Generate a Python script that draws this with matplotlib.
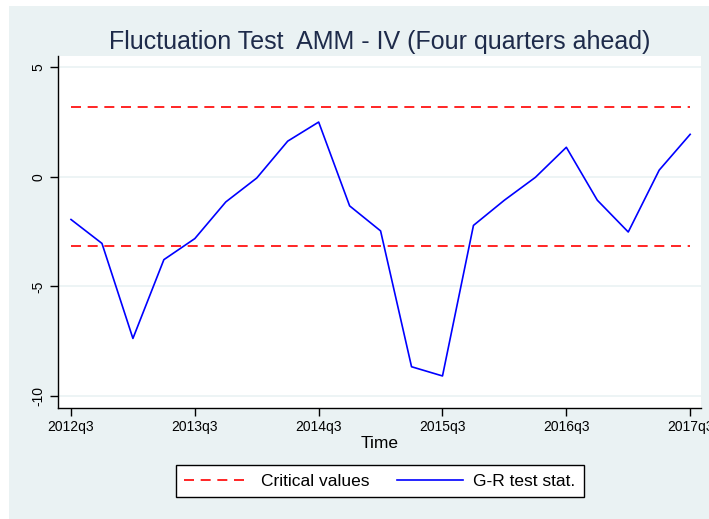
import matplotlib
matplotlib.use("Agg")
import matplotlib.pyplot as plt
from matplotlib.patches import Rectangle

# quarters 2012q3 .. 2017q3
quarters = ['2012q3', '2012q4', '2013q1', '2013q2', '2013q3', '2013q4', '2014q1',
            '2014q2', '2014q3', '2014q4', '2015q1', '2015q2', '2015q3', '2015q4',
            '2016q1', '2016q2', '2016q3', '2016q4', '2017q1', '2017q2', '2017q3']
gr_stat = [-1.95, -3.04, -7.37, -3.78, -2.82, -1.15, -0.06, 1.62, 2.49, -1.33, -2.47,
           -8.66, -9.08, -2.22, -1.07, -0.03, 1.34, -1.07, -2.52, 0.30, 1.93]
crit_value = 3.18
tick_labels = ['2012q3', '2013q3', '2014q3', '2015q3', '2016q3', '2017q3']

plt.rcParams['font.family'] = ['Liberation Sans', 'DejaVu Sans']

fig = plt.figure(figsize=(7.09, 5.19), dpi=100)
fig.patch.set_facecolor('white')
bg = Rectangle((9 / 709, 0), 1, 513 / 519, transform=fig.transFigure,
               facecolor='#eaf2f3', edgecolor='none', zorder=-10)
fig.add_artist(bg)

ax = fig.add_axes([58 / 709, 1 - 408 / 519, (701 - 58) / 709, (408 - 56) / 519])
ax.set_zorder(1)
ax.set_facecolor('white')

x = list(range(len(quarters)))
ax.plot([x[0], x[-1]], [crit_value, crit_value], color='#ff0000', lw=1.2,
        dashes=(6, 4), label='Critical values')
ax.plot([x[0], x[-1]], [-crit_value, -crit_value], color='#ff0000', lw=1.2,
        dashes=(6, 4))
ax.plot(x, gr_stat, color='#0000ff', lw=1.2, label='G-R test stat.')

ax.set_xlim(-0.42, 20.35)
ax.set_ylim(-10.54, 5.5)
ax.set_yticks([-10, -5, 0, 5])
ax.set_yticklabels(['-10', '-5', '0', '5'], rotation=90, va='center', fontsize=10)
ax.set_xticks([quarters.index(t) for t in tick_labels])
ax.set_xticklabels(tick_labels, fontsize=10)
ax.yaxis.grid(True, color='#eaf2f3', lw=1.2)
ax.set_axisbelow(True)
for s in ['top', 'right']:
    ax.spines[s].set_visible(False)
for s in ['left', 'bottom']:
    ax.spines[s].set_color('black')
    ax.spines[s].set_linewidth(1)
ax.tick_params(length=6, width=1, color='black', pad=3)

ax.set_xlabel('Time', fontsize=12.5, labelpad=1)
ax.set_title('Fluctuation Test  AMM - IV (Four quarters ahead)', fontsize=18,
             color='#1e2b4a', pad=5)

leg = fig.legend(loc='center', bbox_to_anchor=(380 / 709, 1 - 481 / 519), ncol=2,
                 fontsize=12.5, frameon=True, fancybox=False, handlelength=3.8,
                 handletextpad=0.6, columnspacing=1.6, borderpad=0.5, framealpha=1)
leg.get_frame().set_edgecolor('black')
leg.get_frame().set_facecolor('white')
leg.get_frame().set_linewidth(1)

fig.savefig('out.png', dpi=100)
